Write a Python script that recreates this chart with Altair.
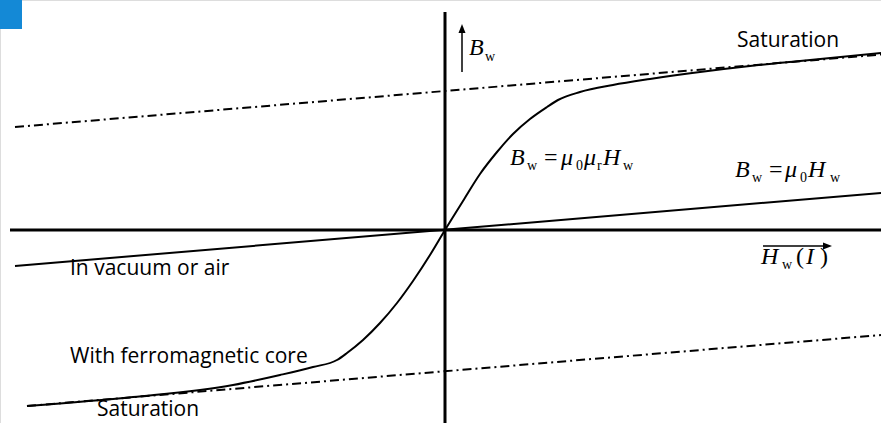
import altair as alt
import pandas as pd

# Field strength H_w and flux density B_w, arbitrary units (origin at the axes crossing)
ferro_h = [-4.18, -3.12, -2.12, -1.65, -1.32, -1.08, -0.98, -0.82, -0.65, -0.48, -0.32, -0.15, 0.0,
           0.18, 0.35, 0.52, 0.68, 0.85, 1.02, 1.13, 1.35, 1.68, 2.05, 2.55, 3.05, 3.55, 4.36]
ferro_b = [-1.76, -1.67, -1.55, -1.45, -1.37, -1.30, -1.23, -1.10, -0.93, -0.73, -0.51, -0.25, 0.0,
           0.29, 0.56, 0.78, 0.96, 1.11, 1.23, 1.30, 1.38, 1.45, 1.51, 1.58, 1.64, 1.69, 1.77]

vacuum_h = [-4.30, 4.36]
vacuum_b = [-0.36, 0.37]

sat_upper_h = [-4.30, 4.36]
sat_upper_b = [1.03, 1.755]
sat_lower_h = [-4.18, 4.36]
sat_lower_b = [-1.76, -1.05]

# Axis lines
h_axis_h = [-4.35, 4.36]
v_axis_b = [2.18, -1.93]

# Arrows next to the axis symbols
b_arrow_h = 0.17
b_arrow_b = [1.58, 2.06]
h_arrow_b = -0.16
h_arrow_h = [3.18, 3.87]

# Plain labels (left edge, baseline)
label_text = ["Saturation", "In vacuum or air", "With ferromagnetic core", "Saturation"]
label_h = [2.92, -3.75, -3.75, -3.48]
label_b = [1.83, -0.45, -1.33, -1.86]

# Formula pieces: text, h, b, italic?, size
math_text = ["B", "w",
             "B", "w", "=", "\u03bc", "0", "\u03bc", "r", "H", "w",
             "B", "w", "=", "\u03bc", "0", "H", "w",
             "H", "w", "(", "I", ")"]
math_h = [0.24, 0.40,
          0.65, 0.82, 0.99, 1.16, 1.31, 1.39, 1.52, 1.58, 1.78,
          2.90, 3.07, 3.24, 3.40, 3.55, 3.63, 3.85,
          3.16, 3.37, 3.51, 3.61, 3.75]
math_b = [1.75, 1.69,
          0.65, 0.60, 0.65, 0.65, 0.60, 0.65, 0.60, 0.65, 0.60,
          0.53, 0.48, 0.53, 0.53, 0.48, 0.53, 0.48,
          -0.34, -0.39, -0.34, -0.34, -0.34]
math_italic = [True, False,
               True, False, False, True, False, True, False, True, False,
               True, False, False, True, False, True, False,
               True, False, False, True, False]
math_size = [24, 14,
             24, 14, 24, 24, 14, 24, 14, 24, 14,
             24, 14, 24, 24, 14, 24, 14,
             24, 14, 24, 24, 24]

# Corner tab
tab_h = [-4.45, -4.23]
tab_b = [2.30, 2.01]

X = alt.Scale(domain=[-4.45, 4.36], nice=False, zero=False)
Y = alt.Scale(domain=[-1.93, 2.30], nice=False, zero=False)


def line_df(hs, bs):
    return pd.DataFrame({"h": hs, "b": bs, "i": list(range(len(hs)))})


def enc(xf="h", yf="b"):
    return dict(x=alt.X(f"{xf}:Q", scale=X, axis=None),
                y=alt.Y(f"{yf}:Q", scale=Y, axis=None))


dashdot = [9, 4, 2, 4]

sat_up = alt.Chart(line_df(sat_upper_h, sat_upper_b)).mark_line(
    color="black", strokeWidth=2, strokeDash=dashdot).encode(**enc(), order="i:Q")
sat_lo = alt.Chart(line_df(sat_lower_h, sat_lower_b)).mark_line(
    color="black", strokeWidth=2, strokeDash=dashdot).encode(**enc(), order="i:Q")
vac = alt.Chart(line_df(vacuum_h, vacuum_b)).mark_line(
    color="black", strokeWidth=2).encode(**enc(), order="i:Q")
ferro = alt.Chart(line_df(ferro_h, ferro_b)).mark_line(
    color="black", strokeWidth=2, interpolate="monotone").encode(**enc(), order="i:Q")

axes_df = pd.DataFrame({
    "h": [h_axis_h[0], 0.0], "h2": [h_axis_h[1], 0.0],
    "b": [0.0, v_axis_b[0]], "b2": [0.0, v_axis_b[1]],
})
axes = alt.Chart(axes_df).mark_rule(color="black", strokeWidth=3).encode(
    x=alt.X("h:Q", scale=X, axis=None), x2="h2:Q",
    y=alt.Y("b:Q", scale=Y, axis=None), y2="b2:Q")

arrows_df = pd.DataFrame({
    "h": [b_arrow_h, h_arrow_h[0]], "h2": [b_arrow_h, h_arrow_h[1] - 0.04],
    "b": [b_arrow_b[0], h_arrow_b], "b2": [b_arrow_b[1] - 0.04, h_arrow_b],
})
arrows = alt.Chart(arrows_df).mark_rule(color="black", strokeWidth=1.5).encode(
    x=alt.X("h:Q", scale=X, axis=None), x2="h2:Q",
    y=alt.Y("b:Q", scale=Y, axis=None), y2="b2:Q")

head_up = alt.Chart(pd.DataFrame({"h": [b_arrow_h], "b": [b_arrow_b[1]]})).mark_point(
    shape="M0,0L0.7,1.8L-0.7,1.8Z", filled=True, color="black", opacity=1, size=100,
    strokeWidth=0).encode(**enc())
head_right = alt.Chart(pd.DataFrame({"h": [h_arrow_h[1]], "b": [h_arrow_b]})).mark_point(
    shape="M0,0L-1.8,-0.7L-1.8,0.7Z", filled=True, color="black", opacity=1, size=100,
    strokeWidth=0).encode(**enc())

tab = alt.Chart(pd.DataFrame({"h": [tab_h[0]], "h2": [tab_h[1]],
                              "b": [tab_b[0]], "b2": [tab_b[1]]})).mark_rect(
    color="#1489d6").encode(
    x=alt.X("h:Q", scale=X, axis=None), x2="h2:Q",
    y=alt.Y("b:Q", scale=Y, axis=None), y2="b2:Q")

labels = alt.Chart(pd.DataFrame({"t": label_text, "h": label_h, "b": label_b})).mark_text(
    font="Open Sans", fontSize=21, align="left", baseline="alphabetic", color="black").encode(
    **enc(), text="t:N")

math_df = pd.DataFrame({"t": math_text, "h": math_h, "b": math_b,
                        "it": math_italic, "s": math_size})
math_it = alt.Chart(math_df[math_df.it]).mark_text(
    font="Liberation Serif", fontStyle="italic", align="left", baseline="alphabetic",
    color="black").encode(**enc(), text="t:N", size=alt.Size("s:Q", scale=None, legend=None))
math_up = alt.Chart(math_df[~math_df.it]).mark_text(
    font="Liberation Serif", align="left", baseline="alphabetic",
    color="black").encode(**enc(), text="t:N", size=alt.Size("s:Q", scale=None, legend=None))

chart = alt.layer(
    tab, sat_up, sat_lo, vac, ferro, axes, arrows, head_up, head_right,
    labels, math_it, math_up
).properties(
    width=881, height=423, padding=0, autosize=alt.AutoSizeParams(type="none")
).configure_view(stroke=None).configure(background="white")

chart.save("out.html", embed_options={"renderer": "svg", "actions": False})
